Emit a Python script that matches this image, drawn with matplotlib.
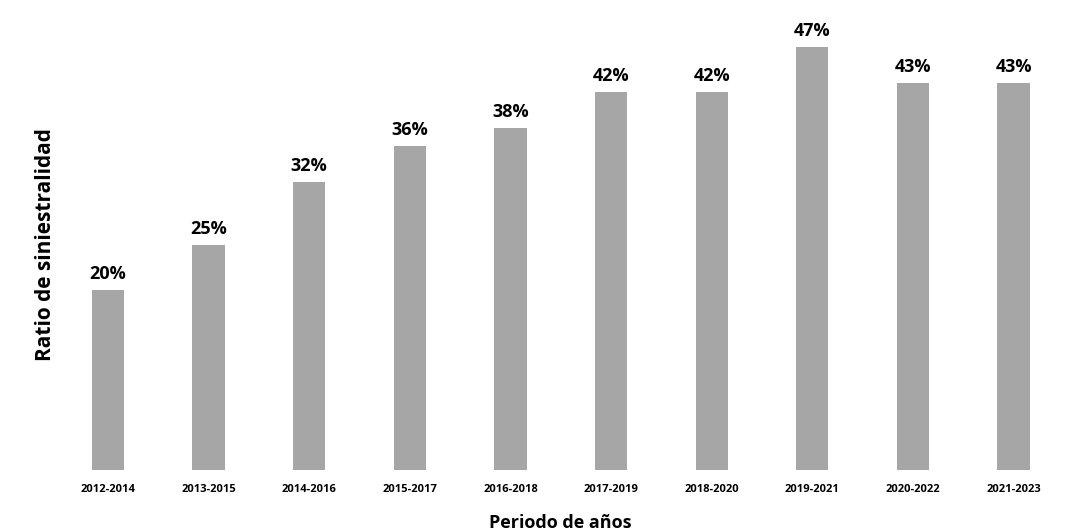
import matplotlib.pyplot as plt

plt.rcParams['font.family'] = ['Open Sans', 'DejaVu Sans']

periodos = ['2012-2014', '2013-2015', '2014-2016', '2015-2017', '2016-2018',
            '2017-2019', '2018-2020', '2019-2021', '2020-2022', '2021-2023']
ratio = [20, 25, 32, 36, 38, 42, 42, 47, 43, 43]

fig = plt.figure(figsize=(10.66, 5.31), dpi=100)
ax = fig.add_axes([0.054, 0.115, 0.944, 0.847])

x = range(len(periodos))
bars = ax.bar(x, ratio, width=0.32, color='#a6a6a6')

# etiquetas encima de cada barra
for b, v in zip(bars, ratio):
    ax.annotate(f'{v}%', (b.get_x() + b.get_width() / 2, v),
                xytext=(0, 5), textcoords='offset points',
                ha='center', va='bottom', fontsize=13, fontweight='bold')

ax.set_xlim(-0.5, 9.5)
ax.set_ylim(0, 50)
ax.set_xticks(list(x))
ax.set_xticklabels(periodos, fontsize=8, fontweight='bold')
ax.tick_params(axis='x', length=0, pad=10)
ax.set_yticks([])
for s in ax.spines.values():
    s.set_visible(False)

ax.set_xlabel('Periodo de años', fontsize=13, fontweight='bold', labelpad=14)
ax.set_ylabel('Ratio de siniestralidad', fontsize=15, fontweight='bold', labelpad=1)

fig.savefig('out.png', dpi=100)
